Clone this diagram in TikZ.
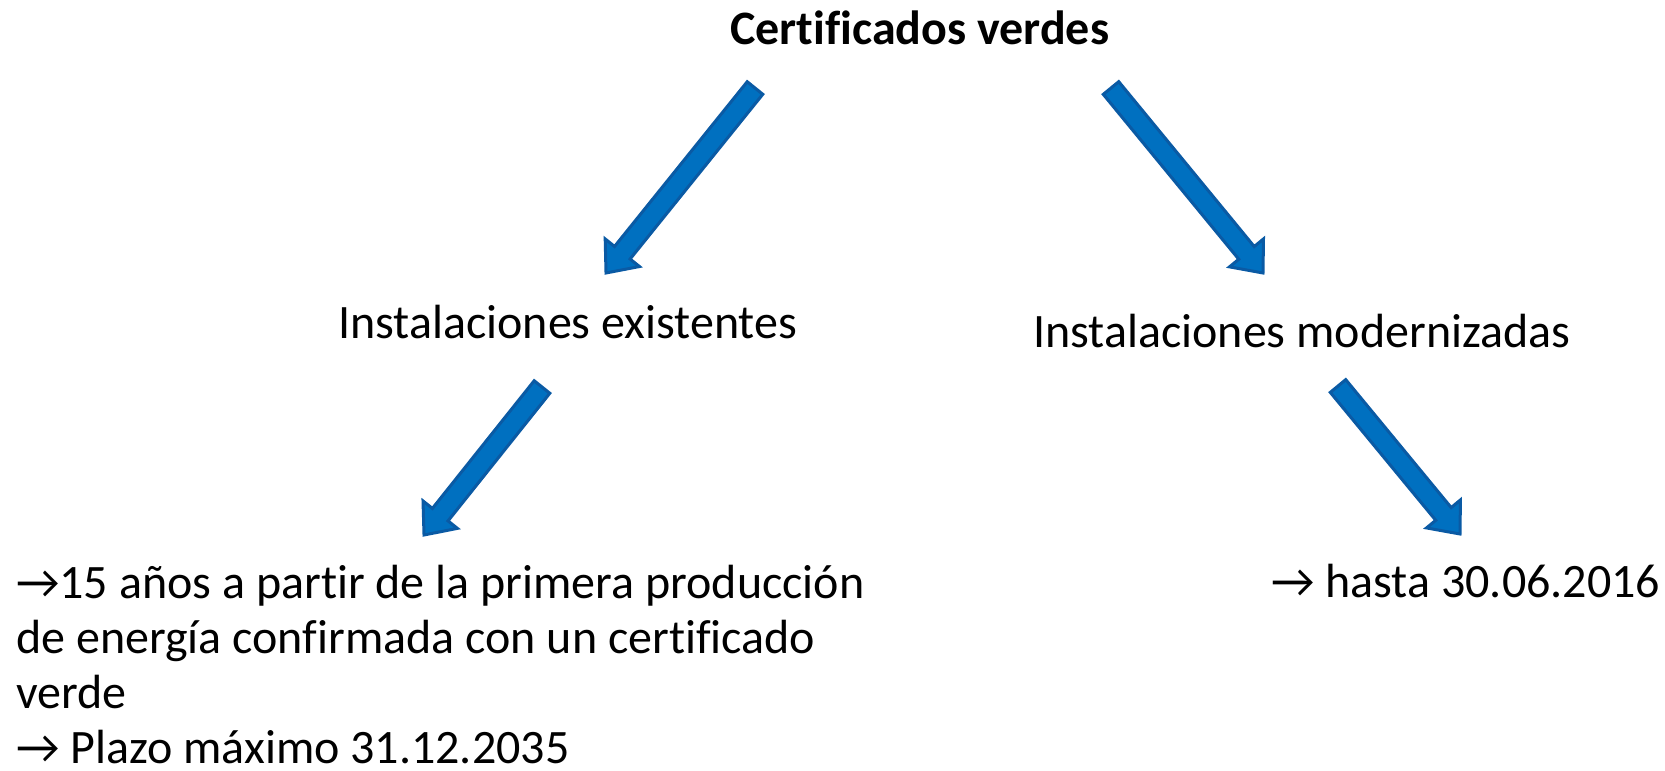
\documentclass[tikz,border=0pt]{standalone}
\usepackage{fontspec}
\setmainfont[Ligatures=CommonOff]{Carlito}
\usetikzlibrary{calc}

\definecolor{arrowfill}{RGB}{0,112,192}
\definecolor{arrowline}{RGB}{10,90,164}

\tikzset{
  label/.style={anchor=base west, inner sep=0pt, font=\fontsize{48bp}{57bp}\selectfont},
  blockarrow/.style={draw=arrowline, fill=arrowfill, line width=3bp, line join=miter},
}

% block arrow between two named points
\newcommand{\blockarrow}[2]{%
  \draw[blockarrow] let \p1=(#1), \p2=(#2),
    \n1={atan2(\y2-\y1,\x2-\x1)}, \n2={veclen(\x2-\x1,\y2-\y1)} in
    [shift={(\p1)}, rotate=\n1]
    (0bp,-10bp) -- ({\n2-26bp},-10bp) -- ({\n2-26bp},-22bp) -- (\n2,0bp)
    -- ({\n2-26bp},22bp) -- ({\n2-26bp},10bp) -- (0bp,10bp) -- cycle;}

\begin{document}
\begin{tikzpicture}[x=1bp, y=-1bp]
\useasboundingbox (0,0) rectangle (1665,771);

% headings
\node[label, font=\fontsize{48bp}{57bp}\selectfont\bfseries] (cert) at (730,45) {Certificados verdes};
\node[label] (exist) at (338,338) {Instalaciones existentes};
\node[label] (modern) at (1033,347) {Instalaciones modernizadas};

% left column
\node[label] (line1) at (16,598) {→15 años a partir de la primera producción};
\node[label] (line2) at (16,653) {de energía confirmada con un certificado};
\node[label] (line3) at (16,708) {verde};
\node[label] (line4) at (16,763) {→ Plazo máximo 31.12.2035};

% right column
\node[label] (hasta) at (1271,597) {→ hasta 30.06.2016};

% arrow ends
\coordinate (a1s) at (755,88);
\coordinate (a1e) at (606,273);
\coordinate (a2s) at (1111,88);
\coordinate (a2e) at (1263,273);
\coordinate (a3s) at (542,387);
\coordinate (a3e) at (424,535);
\coordinate (a4s) at (1338,386);
\coordinate (a4e) at (1460,534);

\blockarrow{a1s}{a1e}
\blockarrow{a2s}{a2e}
\blockarrow{a3s}{a3e}
\blockarrow{a4s}{a4e}

\end{tikzpicture}
\end{document}
